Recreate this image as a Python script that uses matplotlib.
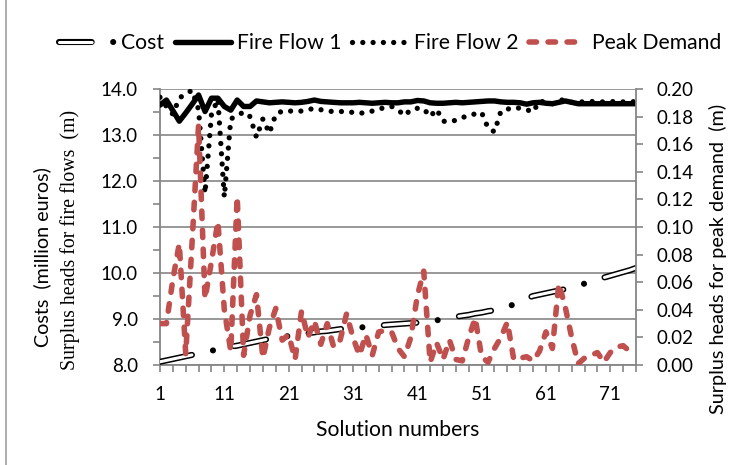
import numpy as np
import matplotlib
matplotlib.use("Agg")
import matplotlib.pyplot as plt
from matplotlib.lines import Line2D
from matplotlib.legend_handler import HandlerTuple

plt.rcParams["font.family"] = ["Lato", "DejaVu Sans"]
plt.rcParams["lines.scale_dashes"] = False

# ---- data: 75 Pareto solutions ----
solutions = np.arange(1, 76)

cost = [8.07, 8.10, 8.13, 8.16, 8.19, 8.22, 8.25, 8.28, 8.31, 8.34,
        8.37, 8.40, 8.42, 8.45, 8.48, 8.51, 8.54, 8.57, 8.59, 8.61,
        8.63, 8.65, 8.67, 8.69, 8.71, 8.73, 8.74, 8.76, 8.78, 8.80,
        8.81, 8.82, 8.82, 8.84, 8.85, 8.87, 8.88, 8.89, 8.90, 8.91,
        8.92, 8.93, 8.95, 8.97, 9.00, 9.02, 9.05, 9.07, 9.09, 9.12,
        9.14, 9.17, 9.19, 9.22, 9.26, 9.32, 9.40, 9.45, 9.50, 9.53,
        9.56, 9.59, 9.62, 9.65, 9.68, 9.72, 9.77, 9.82, 9.86, 9.90,
        9.94, 9.98, 10.02, 10.06, 10.11]

fire_flow_1 = [13.65, 13.76, 13.53, 13.30, 13.48, 13.67, 13.87, 13.51, 13.80, 13.80,
               13.62, 13.54, 13.76, 13.62, 13.62, 13.74, 13.72, 13.70, 13.71, 13.72,
               13.71, 13.70, 13.71, 13.73, 13.76, 13.73, 13.72, 13.71, 13.70, 13.70,
               13.70, 13.71, 13.70, 13.69, 13.70, 13.71, 13.70, 13.70, 13.72, 13.72,
               13.75, 13.74, 13.70, 13.69, 13.69, 13.70, 13.71, 13.70, 13.71, 13.72,
               13.73, 13.74, 13.74, 13.72, 13.71, 13.71, 13.70, 13.67, 13.70, 13.71,
               13.69, 13.68, 13.71, 13.74, 13.71, 13.68, 13.68, 13.68, 13.68, 13.68,
               13.68, 13.68, 13.68, 13.68, 13.68]

fire_flow_2 = [13.82, 13.62, 13.45, 13.80, 13.90, 13.97, 13.55, 11.73, 13.45, 13.78,
               11.65, 13.35, 13.42, 13.50, 13.40, 12.95, 13.35, 13.04, 13.45, 13.52,
               13.52, 13.52, 13.52, 13.55, 13.58, 13.55, 13.52, 13.51, 13.51, 13.51,
               13.49, 13.47, 13.49, 13.52, 13.56, 13.60, 13.62, 13.55, 13.42, 13.55,
               13.58, 13.57, 13.40, 13.56, 13.30, 13.29, 13.32, 13.38, 13.42, 13.46,
               13.49, 13.15, 13.07, 13.52, 13.56, 13.60, 13.58, 13.55, 13.50, 13.74,
               13.71, 13.68, 13.75, 13.77, 13.71, 13.72, 13.72, 13.73, 13.72, 13.72,
               13.73, 13.72, 13.72, 13.73, 13.72]

peak_demand = [0.030, 0.030, 0.062, 0.088, 0.008, 0.090, 0.174, 0.048, 0.075, 0.104,
               0.040, 0.010, 0.122, 0.007, 0.036, 0.051, 0.005, 0.027, 0.041, 0.018,
               0.022, 0.004, 0.039, 0.020, 0.032, 0.015, 0.030, 0.013, 0.018, 0.037,
               0.020, 0.007, 0.022, 0.007, 0.024, 0.025, 0.024, 0.012, 0.006, 0.020,
               0.050, 0.068, 0.002, 0.016, 0.004, 0.018, 0.004, 0.003, 0.020, 0.034,
               0.006, 0.002, 0.012, 0.020, 0.031, 0.004, 0.005, 0.006, 0.003, 0.010,
               0.024, 0.012, 0.059, 0.042, 0.020, 0.001, 0.005, 0.007, 0.009, 0.002,
               0.009, 0.013, 0.014, 0.010, 0.009]

x_labels = [1, 11, 21, 31, 41, 51, 61, 71]

# ---- styles ----
GRAY = "#868686"
RED = "#C0504D"
FS = 13.5       # tick labels
FS_TXT = 15.2   # legend / axis titles
W, H = 752, 465

cost_outer = dict(color="black", lw=4.4, linestyle=(0, (23.5, 15.5, 0.01, 15.5)),
                  dash_capstyle="round", solid_capstyle="round")
cost_inner = dict(color="white", lw=2.2, linestyle=(0, (23.5, 31.0)),
                  dash_capstyle="round")
ff1_style = dict(color="black", lw=3.9, solid_joinstyle="round", solid_capstyle="round")
ff2_style = dict(color="black", lw=3.8, linestyle=(0, (0.01, 7.4)),
                 dash_capstyle="round")
pd_style = dict(color=RED, lw=4.0, linestyle=(0, (5.4, 8.3)),
                dash_capstyle="round", dash_joinstyle="round")

fig = plt.figure(figsize=(W / 100, H / 100), dpi=100)
ax = fig.add_axes([160 / W, 1 - 365 / H, 476 / W, 276 / H])
ax2 = ax.twinx()

ax.plot(solutions, cost, zorder=3, **cost_outer)
ax.plot(solutions, cost, zorder=3.1, **cost_inner)
ax.plot(solutions, fire_flow_1, zorder=4, **ff1_style)
ax.plot(solutions, fire_flow_2, zorder=5, **ff2_style)
ax2.plot(solutions, peak_demand, zorder=3, **pd_style)

# axes ranges and ticks
ax.set_xlim(1, 75)
ax.set_ylim(8, 14)
ax2.set_ylim(0, 0.2)

xt = np.arange(1, 76, 2)
ax.set_xticks(xt)
ax.set_xticklabels([str(v) if v in x_labels else "" for v in xt])
ax.set_yticks(np.arange(8, 14.01, 1.0))
ax.set_yticklabels([f"{v:.1f}" for v in np.arange(8, 14.01, 1.0)])
ax.set_yticks(np.arange(8.5, 14, 1.0), minor=True)
ax2.set_yticks(np.arange(0, 0.2001, 0.02))
ax2.set_yticklabels([f"{v:.2f}" for v in np.arange(0, 0.2001, 0.02)])

ax.yaxis.grid(True, which="major", color=GRAY, lw=1.2)
ax.set_axisbelow(True)

for a in (ax, ax2):
    for s in a.spines.values():
        s.set_color(GRAY)
        s.set_linewidth(1.3)
    a.spines["top"].set_visible(False)
ax.spines["right"].set_visible(False)
ax2.spines["left"].set_visible(False)
ax2.spines["bottom"].set_visible(False)

ax.tick_params(axis="both", which="both", direction="out", length=5, width=1.2,
               color=GRAY, labelsize=FS)
ax.tick_params(axis="y", pad=11)
ax.tick_params(axis="x", pad=10)
ax2.tick_params(axis="y", direction="out", length=5, width=1.2, color=GRAY,
                labelsize=FS, pad=10)

# axis titles
fig.text(42 / W, 1 - 257 / H, "Costs  (million euros)", rotation=90,
         ha="center", va="center", fontsize=14.2)
fig.text(70 / W, 1 - 240 / H, "Surplus heads for fire flows  (m)", rotation=90,
         ha="center", va="center", fontsize=14.3, family="Liberation Serif")
fig.text(718 / W, 1 - 259 / H, "Surplus heads for peak demand  (m)", rotation=90,
         ha="center", va="center", fontsize=14.3)
fig.text(398 / W, 1 - 430 / H, "Solution numbers", ha="center", va="center",
         fontsize=FS_TXT)

# legend
h_cost = (Line2D([], [], **cost_outer), Line2D([], [], **cost_inner))
h_ff1 = Line2D([], [], **ff1_style)
h_ff2 = Line2D([], [], **ff2_style)
h_pd = Line2D([], [], **pd_style)
fig.legend([h_cost, h_ff1, h_ff2, h_pd],
           ["Cost", "Fire Flow 1", "Fire Flow 2", "Peak Demand"],
           ncol=4, loc="center", bbox_to_anchor=(390 / W, 1 - 43 / H),
           frameon=False, fontsize=FS_TXT, handlelength=2.65, handletextpad=0.3,
           columnspacing=0.5, handler_map={tuple: HandlerTuple(ndivide=1)})

# chart area border on the left
fig.add_artist(Line2D([6 / W, 6 / W], [0, 1], transform=fig.transFigure,
                      color="#A0A0A0", lw=1.2))

fig.savefig("out.png", dpi=100)
